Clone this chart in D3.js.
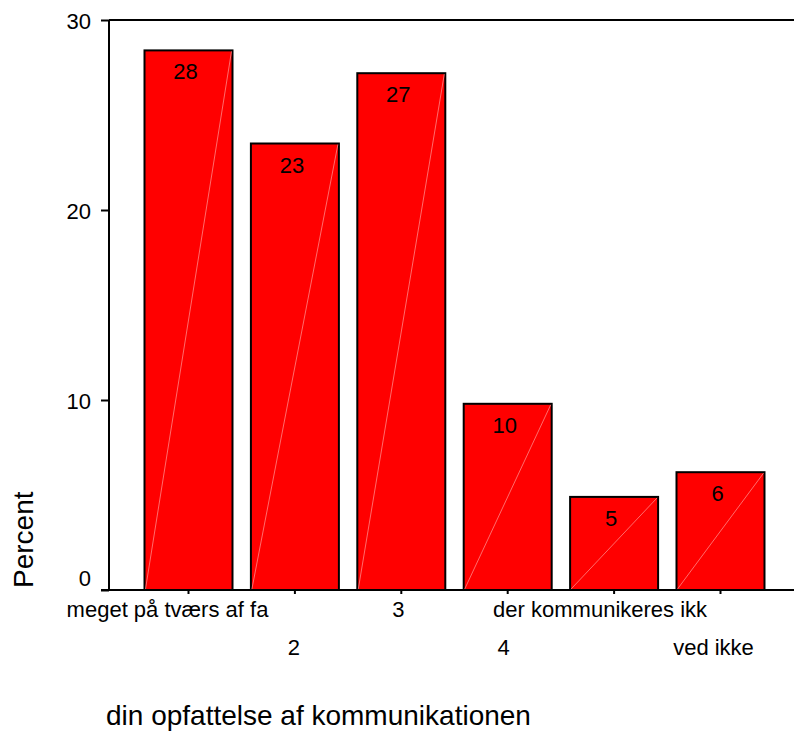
<!DOCTYPE html>
<html>
<head>
<meta charset="utf-8">
<script src="https://cdn.jsdelivr.net/npm/d3@7"></script>
<style>
  html, body { margin: 0; padding: 0; background: #fff; }
  svg { display: block; }
  text { font-family: "Liberation Sans", Arial, Helvetica, sans-serif; fill: #000; }
</style>
</head>
<body>
<svg id="chart" width="794" height="733"></svg>
<script>
const categories = ["meget på tværs af fa", "2", "3", "4", "der kommunikeres ikk", "ved ikke"];
const percents = [28.4, 23.5, 27.2, 9.8, 4.9, 6.2];
const barLabels = ["28", "23", "27", "10", "5", "6"];
const yTicks = [0, 10, 20, 30];
const xTitle = "din opfattelse af kommunikationen";
const yTitle = "Percent";

const svg = d3.select("#chart");

const x = d3.scaleBand()
  .domain(categories)
  .range([135.3, 773.7])
  .paddingInner(0.173)
  .paddingOuter(0.0865);

const y = d3.scaleLinear().domain([0, 30]).range([590, 20]);

const axisLeftX = 109;
const rightEnd = 794;

// frame top line
svg.append("line")
  .attr("x1", axisLeftX).attr("x2", rightEnd)
  .attr("y1", y(30)).attr("y2", y(30))
  .attr("stroke", "#000").attr("stroke-width", 2);

// bars
const bars = svg.append("g");
categories.forEach((c, i) => {
  const x0 = x(c), w = x.bandwidth(), y0 = y(percents[i]), h = y(0) - y(percents[i]);
  bars.append("rect")
    .attr("x", x0).attr("y", y0).attr("width", w).attr("height", h)
    .attr("fill", "#ff0000").attr("stroke", "#000").attr("stroke-width", 2);
  bars.append("line")
    .attr("x1", x0 + 1).attr("y1", y(0) - 1)
    .attr("x2", x0 + w - 1).attr("y2", y0 + 1)
    .attr("stroke", "#ff9a9a").attr("stroke-width", 0.7);
  bars.append("text")
    .attr("x", x0 + w / 2 - 3)
    .attr("y", y0 + 29)
    .attr("text-anchor", "middle")
    .attr("font-size", 22)
    .text(barLabels[i]);
});

// y axis
const yAxis = d3.axisLeft(y).tickValues(yTicks).tickSize(8).tickPadding(10).tickFormat(d3.format("d"));
const gy = svg.append("g").attr("transform", `translate(${axisLeftX},0)`).call(yAxis);
gy.select(".domain").attr("stroke", "#000").attr("stroke-width", 2).attr("d", `M0,${y(0)}V${y(30)}`);
gy.selectAll(".tick line").attr("stroke", "#000").attr("stroke-width", 2);
gy.selectAll(".tick text")
  .attr("font-size", 22)
  .attr("font-family", "Liberation Sans, Arial, sans-serif")
  .attr("fill", "#000")
  .attr("dy", d => d === 0 ? "-0.2em" : "0.38em");

// x axis
const xAxis = d3.axisBottom(x).tickSize(4).tickFormat("");
const gx = svg.append("g").attr("transform", `translate(0,${y(0)})`).call(xAxis);
gx.select(".domain").remove();
gx.selectAll(".tick line").attr("stroke", "#000").attr("stroke-width", 2);
svg.append("line")
  .attr("x1", axisLeftX - 8).attr("x2", rightEnd)
  .attr("y1", y(0)).attr("y2", y(0))
  .attr("stroke", "#000").attr("stroke-width", 2);

// staggered x labels
const labelNudge = [-21, -1, -3, -4, -14, -7];
categories.forEach((c, i) => {
  svg.append("text")
    .attr("x", x(c) + x.bandwidth() / 2 + labelNudge[i])
    .attr("y", i % 2 === 0 ? 617 : 655)
    .attr("text-anchor", "middle")
    .attr("font-size", 22)
    .text(c);
});

// titles
svg.append("text")
  .attr("x", 106).attr("y", 725)
  .attr("font-size", 28)
  .text(xTitle);

svg.append("text")
  .attr("transform", "translate(33,588) rotate(-90)")
  .attr("font-size", 28)
  .text(yTitle);
</script>
</body>
</html>
